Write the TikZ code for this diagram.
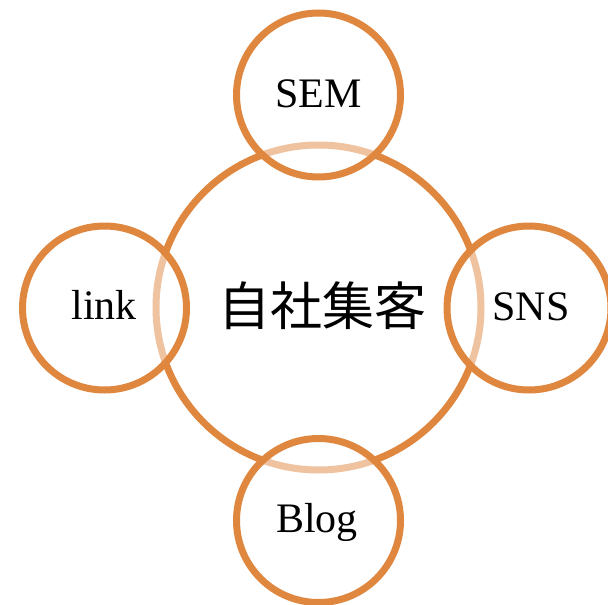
\documentclass[tikz,border=0pt]{standalone}
\usepackage{fontspec}
\setmainfont{Liberation Serif}
\newfontfamily\cjkfont{Noto Sans CJK JP}
\definecolor{ring}{HTML}{E0873F}
\begin{document}
\begin{tikzpicture}[x=1pt,y=-1pt,
  ringline/.style={draw=ring, line width=7pt},
  satellite/.style={ringline, fill=white, fill opacity=0.5, draw opacity=1},
  label/.style={font=\fontsize{42}{42}\selectfont, inner sep=0pt, anchor=base}]
\useasboundingbox (0,0) rectangle (608,605);
% central ring
\draw[ringline] (318.5,307.5) circle[radius=162.5];
% satellite rings, half-transparent fill softens the central ring beneath
\draw[satellite] (318.5,95) circle[radius=82];
\draw[satellite] (104.5,308) circle[radius=82];
\draw[satellite] (529,308) circle[radius=82];
\draw[satellite] (318.5,520.5) circle[radius=82];
% texts
\node[inner sep=0pt, font=\cjkfont\fontsize{52}{52}\selectfont] (core) at (322,306) {自社集客};
\node[label] (sem) at (318.5,107) {SEM};
\node[label] (lnk) at (104,319) {link};
\node[label] (sns) at (531,320) {SNS};
\node[label] (blog) at (317,532) {Blog};
\end{tikzpicture}
\end{document}
